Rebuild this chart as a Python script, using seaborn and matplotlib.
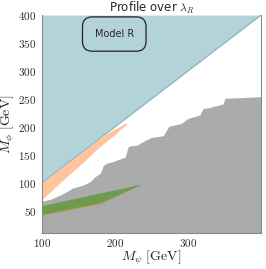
import numpy as np
import pandas as pd
import matplotlib
matplotlib.use("Agg")
import matplotlib.pyplot as plt
import seaborn as sns

# ---- data ----
diag_x = [100, 400]
diag_y = [100, 400]

gray_x = [100, 111, 125, 138, 141, 157, 166, 173, 180, 184, 189, 198, 214, 218,
          221, 230, 239, 250, 266, 274, 291, 300, 316, 321, 328, 348, 351, 371, 400]
gray_y = [67, 70, 78, 87, 90, 96, 102, 111, 117, 131, 135, 138, 146, 164,
          166, 167, 174, 181, 184, 201, 206, 215, 221, 233, 234, 241, 251, 252, 254]

orange_x = [100, 110, 120, 134, 150, 165, 177, 190, 200, 207, 212, 216]
orange_lo = [70, 82, 94, 111, 129, 147, 162, 176, 186, 195, 200, 204]
orange_hi = [100, 110, 120, 134, 150, 165, 177, 189, 196, 201, 205, 207]

green_x = [100, 181, 234]
green_lo = [44, 65, 96]
green_hi = [59, 82, 97]

olive_x = [100, 181, 232]
olive_lo = [42, 63, 95]
olive_hi = [45, 66, 96]

# ---- style ----
sns.set_style("white")
plt.rcParams["mathtext.fontset"] = "cm"
plt.rcParams["font.family"] = ["DejaVu Sans"]

fig = plt.figure(figsize=(2.66, 2.69), dpi=100)
ax = fig.add_axes([0.158, 0.134, 0.823, 0.81])

# blue excluded triangle (above diagonal)
ax.fill_between(diag_x, diag_y, [400, 400], color="#b4d3d9", lw=0, zorder=1)
sns.lineplot(x=diag_x, y=diag_y, ax=ax, color="#86b6c2", lw=0.8, zorder=2)

# gray region
ax.fill_between(gray_x, 0, gray_y, color="#ababab", lw=0, zorder=1)

# orange band
ax.fill_between(orange_x, orange_lo, orange_hi, color="#ffc49c", lw=0, zorder=2)

# olive edge and green band
ax.fill_between(olive_x, olive_lo, olive_hi, color="#b09a48", lw=0, zorder=2)
ax.fill_between(green_x, green_lo, green_hi, color="#6f9b50", lw=0, zorder=3)

ax.set_xlim(100, 400)
ax.set_ylim(10, 400)
ax.set_xticks([100, 200, 300])
ax.set_yticks([50, 100, 150, 200, 250, 300, 350, 400])
fmt = matplotlib.ticker.FuncFormatter(lambda v, p: r"$%d$" % v)
ax.xaxis.set_major_formatter(fmt)
ax.yaxis.set_major_formatter(fmt)
ax.tick_params(axis="both", labelsize=8, length=2.5, width=0.6, pad=1.5,
               color="#555555", direction="out")
ax.tick_params(axis="x", length=0, pad=3)

for s in ax.spines.values():
    s.set_color("#888888")
    s.set_linewidth(0.8)
ax.spines["top"].set_visible(False)

ax.set_xlabel(r"$M_\psi\ \mathrm{[GeV]}$", fontsize=10, labelpad=0)
ax.set_ylabel(r"$M_\phi\ \mathrm{[GeV]}$", fontsize=10, labelpad=1)
ax.set_title(r"Profile over $\lambda_R$", fontsize=8.5, pad=2)

ax.text(199, 366, "Model R", fontsize=7, ha="center", va="center",
        bbox=dict(boxstyle="round,pad=1.25,rounding_size=1.0", fc="none",
                  ec="#222222", lw=0.9), zorder=5)

fig.savefig("out.png", dpi=100)
